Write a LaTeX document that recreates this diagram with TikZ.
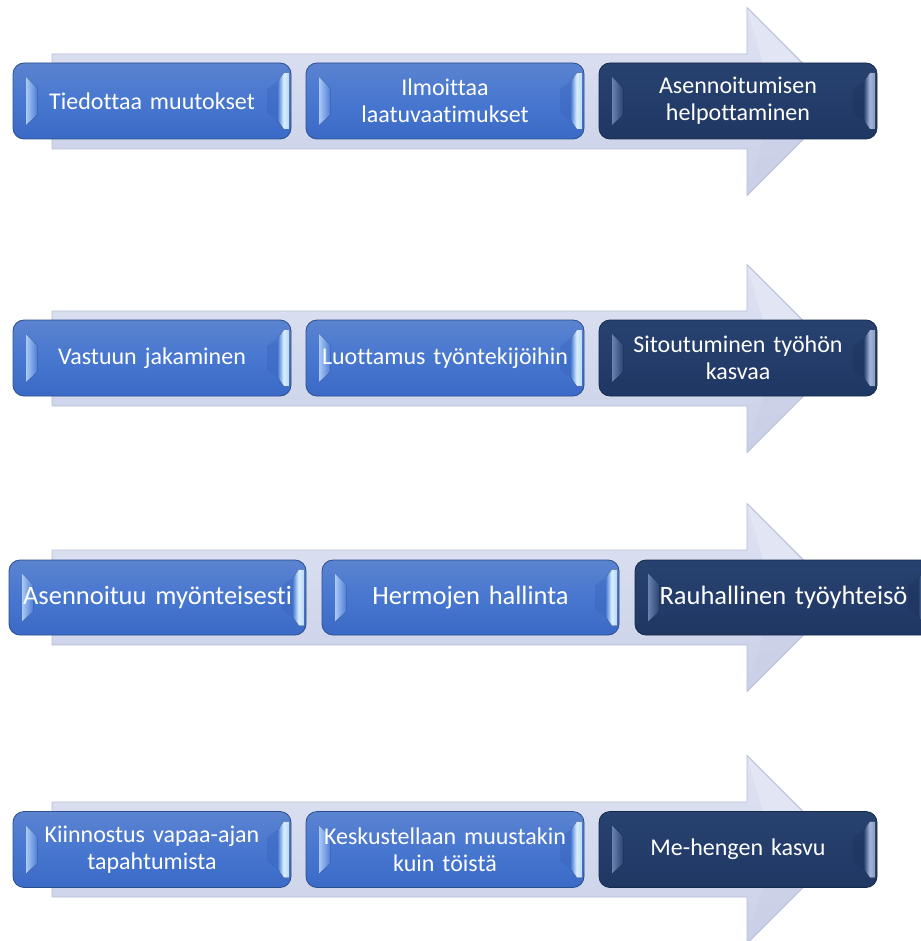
\documentclass[tikz,border=0pt]{standalone}
\usepackage{fontspec}
\setmainfont{Carlito}[Ligatures=NoCommon]
\usetikzlibrary{calc}

\definecolor{arrowtop}{HTML}{DEE3F3}
\definecolor{arrowbot}{HTML}{C9D0E7}
\definecolor{arrowedge}{HTML}{B7BED8}
\definecolor{arrowfold}{HTML}{E8EBF7}
\definecolor{bluetop}{HTML}{5B83D0}
\definecolor{bluemid}{HTML}{4877D0}
\definecolor{bluebot}{HTML}{3A6AC6}
\definecolor{blueedge}{HTML}{2B4E8C}
\definecolor{bluelite}{HTML}{A9CAF6}
\definecolor{bluebase}{HTML}{4F80D6}
\definecolor{bluebar}{HTML}{D8EEFF}
\definecolor{bluefold}{HTML}{3461B8}
\definecolor{darktop}{HTML}{284270}
\definecolor{darkbot}{HTML}{1F3763}
\definecolor{darkedge}{HTML}{152A4A}
\definecolor{darklite}{HTML}{6A82B0}
\definecolor{darkbase}{HTML}{2A4573}
\definecolor{darkbar}{HTML}{A2B4D6}
\definecolor{darkfold}{HTML}{1B3059}

\tikzset{
  bigarrow/.style={draw=arrowedge, line width=0.8pt, top color=arrowtop, bottom color=arrowbot},
  boxbase/.style={rounded corners=11pt, line width=0.8pt, text=white, align=center,
    inner sep=0pt, minimum height=76pt, minimum width=278pt, text width=270pt,
    font=\fontsize{24}{27}\selectfont},
  % bevel highlights drawn inside each box: #1 light edge, #2 base, #3 bright bar, #4 fold
  bevels/.style n args={4}{path picture={
    \fill[sharp corners, #4, opacity=0.35]
      ([shift={(-24pt,12pt)}]path picture bounding box.east) --
      ([shift={(-13pt,20pt)}]path picture bounding box.east) --
      ([shift={(-13pt,-20pt)}]path picture bounding box.east) --
      ([shift={(-24pt,-12pt)}]path picture bounding box.east) -- cycle;
    \fill[sharp corners, left color=#1, right color=#2]
      ([shift={(13pt,24pt)}]path picture bounding box.west) --
      ([shift={(24pt,13pt)}]path picture bounding box.west) --
      ([shift={(24pt,-14pt)}]path picture bounding box.west) --
      ([shift={(13pt,-24pt)}]path picture bounding box.west) -- cycle;
    \fill[sharp corners, left color=#2, right color=#3!80!#2, middle color=#3]
      ([shift={(-13pt,20pt)}]path picture bounding box.east) --
      ([shift={(-7pt,28pt)}]path picture bounding box.east) --
      ([shift={(-2pt,28pt)}]path picture bounding box.east) --
      ([shift={(-2pt,-28pt)}]path picture bounding box.east) --
      ([shift={(-7pt,-28pt)}]path picture bounding box.east) --
      ([shift={(-13pt,-20pt)}]path picture bounding box.east) -- cycle;
  }},
  bluebox/.style={boxbase, draw=blueedge, top color=bluetop, bottom color=bluebot,
    middle color=bluemid, bevels={bluelite}{bluebase}{bluebar}{bluefold}},
  darkbox/.style={boxbase, draw=darkedge, top color=darktop, bottom color=darkbot,
    bevels={darklite}{darkbase}{darkbar}{darkfold}},
  widebox/.style={minimum width=297pt, minimum height=75pt, text width=297pt,
    font=\fontsize{26.5}{30}\selectfont},
}

% background block arrow of one row, centred at height #1
\newcommand\rowarrow[1]{%
  \draw[bigarrow] (52,{#1-47.5}) -- (747,{#1-47.5}) -- (747,{#1-94}) -- (841,#1)
    -- (747,{#1+94}) -- (747,{#1+47.5}) -- (52,{#1+47.5}) -- cycle;
  \fill[arrowfold, opacity=0.6] (747.5,{#1-92}) -- (839,#1) -- (768,{#1-20}) -- cycle;
  \fill[arrowbot, opacity=0.5] (747.5,{#1+92}) -- (839,#1) -- (768,{#1+20}) -- cycle;
}

\begin{document}
\begin{tikzpicture}[x=1pt, y=-1pt]
\useasboundingbox[fill=white] (0,0) rectangle (920,941);

% row 1
\rowarrow{101.5}
\node[bluebox] (r1a) at (152,101) {Tiedottaa muutokset};
\node[bluebox] (r1b) at (445,101) {Ilmoittaa\\laatuvaatimukset};
\node[darkbox] (r1c) at (738,101) {Asennoitumisen\\helpottaminen};

% row 2
\rowarrow{358.5}
\node[bluebox] (r2a) at (152,358) {Vastuun jakaminen};
\node[bluebox] (r2b) at (445,358) {Luottamus työntekijöihin};
\node[darkbox] (r2c) at (738,358) {Sitoutuminen työhön\\kasvaa};

% row 3
\rowarrow{597.5}
\node[bluebox, widebox] (r3a) at (157.5,597.5) {Asennoituu myönteisesti};
\node[bluebox, widebox] (r3b) at (470.5,597.5) {Hermojen hallinta};
\node[darkbox, widebox] (r3c) at (783.5,597.5) {Rauhallinen työyhteisö};

% row 4
\rowarrow{849.5}
\node[bluebox] (r4a) at (152,849.5) {Kiinnostus vapaa-ajan\\tapahtumista};
\node[bluebox] (r4b) at (445,849.5) {Keskustellaan muustakin\\kuin töistä};
\node[darkbox] (r4c) at (738,849.5) {Me-hengen kasvu};
\end{tikzpicture}
\end{document}
